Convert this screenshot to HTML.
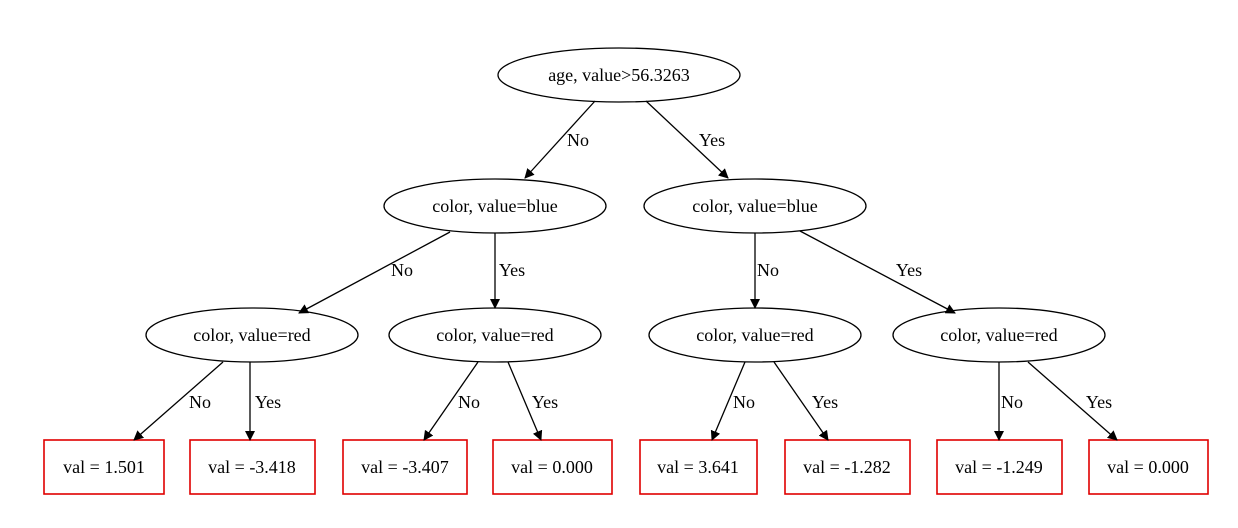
<!DOCTYPE html>
<html><head><meta charset="utf-8"><style>
html,body{margin:0;padding:0;background:#fff;}
svg{display:block;}
text{font-family:"Liberation Serif",serif;font-size:18px;fill:#000;}
</style></head><body>
<svg width="1238" height="528" viewBox="0 0 1238 528" xmlns="http://www.w3.org/2000/svg">
<defs>
<marker id="a" markerWidth="10" markerHeight="10" refX="9" refY="5" orient="auto" markerUnits="userSpaceOnUse" viewBox="0 0 10 10">
<path d="M0,0 L10,5 L0,10 z" fill="#000"/>
</marker>
</defs>
<g fill="none" stroke="#000" stroke-width="1.3">
<ellipse cx="619" cy="75" rx="121" ry="27"/>
<ellipse cx="495" cy="206" rx="111" ry="27"/>
<ellipse cx="755" cy="206" rx="111" ry="27"/>
<ellipse cx="252" cy="335" rx="106" ry="27"/>
<ellipse cx="495" cy="335" rx="106" ry="27"/>
<ellipse cx="755" cy="335" rx="106" ry="27"/>
<ellipse cx="999" cy="335" rx="106" ry="27"/>
</g>
<g fill="none" stroke="#e00000" stroke-width="1.6">
<rect x="44" y="440" width="120" height="54"/>
<rect x="190" y="440" width="125" height="54"/>
<rect x="343" y="440" width="124" height="54"/>
<rect x="493" y="440" width="119" height="54"/>
<rect x="640" y="440" width="117" height="54"/>
<rect x="785" y="440" width="125" height="54"/>
<rect x="937" y="440" width="125" height="54"/>
<rect x="1089" y="440" width="119" height="54"/>
</g>
<g stroke="#000" stroke-width="1.3" marker-end="url(#a)">
<line x1="595" y1="101" x2="525" y2="178"/>
<line x1="646" y1="101" x2="728" y2="178"/>
<line x1="450" y1="232" x2="299" y2="313"/>
<line x1="495" y1="233" x2="495" y2="308"/>
<line x1="755" y1="233" x2="755" y2="308"/>
<line x1="800" y1="231" x2="955" y2="313"/>
<line x1="223" y1="362" x2="134" y2="440"/>
<line x1="250" y1="362" x2="250" y2="440"/>
<line x1="478" y1="362" x2="424" y2="440"/>
<line x1="508" y1="362" x2="541" y2="440"/>
<line x1="745" y1="362" x2="712" y2="440"/>
<line x1="774" y1="362" x2="828" y2="440"/>
<line x1="999" y1="362" x2="999" y2="440"/>
<line x1="1028" y1="362" x2="1117" y2="440"/>
</g>
<g text-anchor="middle">
<text x="619" y="81">age, value&gt;56.3263</text>
<text x="495" y="212">color, value=blue</text>
<text x="755" y="212">color, value=blue</text>
<text x="252" y="341">color, value=red</text>
<text x="495" y="341">color, value=red</text>
<text x="755" y="341">color, value=red</text>
<text x="999" y="341">color, value=red</text>
<text x="104" y="473">val = 1.501</text>
<text x="252" y="473">val = -3.418</text>
<text x="405" y="473">val = -3.407</text>
<text x="552" y="473">val = 0.000</text>
<text x="698" y="473">val = 3.641</text>
<text x="847" y="473">val = -1.282</text>
<text x="999" y="473">val = -1.249</text>
<text x="1148" y="473">val = 0.000</text>
<text x="578" y="146">No</text>
<text x="712" y="146">Yes</text>
<text x="402" y="276">No</text>
<text x="512" y="276">Yes</text>
<text x="768" y="276">No</text>
<text x="909" y="276">Yes</text>
<text x="200" y="408">No</text>
<text x="268" y="408">Yes</text>
<text x="469" y="408">No</text>
<text x="545" y="408">Yes</text>
<text x="744" y="408">No</text>
<text x="825" y="408">Yes</text>
<text x="1012" y="408">No</text>
<text x="1099" y="408">Yes</text>
</g>
</svg>
</body></html>
